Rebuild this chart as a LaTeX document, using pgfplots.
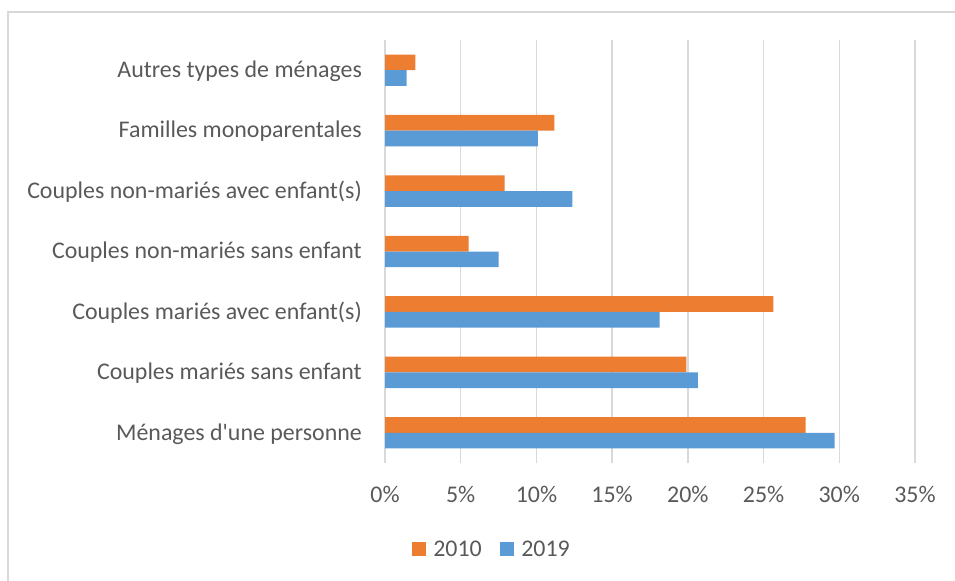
\documentclass[border=0pt]{standalone}
\usepackage{pgfplots}
\pgfplotsset{compat=1.18}
\usepackage{fontspec}
\setmainfont{Carlito}[Ligatures=TeXOff]
\definecolor{c2010}{HTML}{ED7D31}
\definecolor{c2019}{HTML}{5B9BD5}
\definecolor{gridc}{HTML}{D9D9D9}
\definecolor{txt}{HTML}{595959}
\begin{document}
\begin{tikzpicture}
\useasboundingbox (0,0) rectangle (955bp,581bp);
\draw[gridc, line width=1.3bp] (8bp,0) -- (8bp,569bp) -- (955bp,569bp);
\begin{axis}[
  at={(385bp,118bp)}, anchor=south west,
  scale only axis, width=530bp, height=423bp,
  xmin=0, xmax=35, ymin=-0.5, ymax=6.5,
  xbar,
  bar width=15.7bp,
  xtick={0,5,10,15,20,25,30,35},
  xticklabels={0\%,5\%,10\%,15\%,20\%,25\%,30\%,35\%},
  ytick={0,1,2,3,4,5,6},
  yticklabels={Ménages d'une personne,Couples mariés sans enfant,Couples mariés avec enfant(s),Couples non-mariés sans enfant,Couples non-mariés avec enfant(s),Familles monoparentales,Autres types de ménages},
  major tick length=0pt,
  axis line style={draw=none},
  xmajorgrids, grid style={gridc, line width=1.3bp},
  tick label style={text=txt, font=\fontsize{24}{28}\selectfont},
  yticklabel style={anchor=base east, inner sep=0pt, xshift=-23bp, yshift=-7.3bp},
  xticklabel style={anchor=base, inner sep=0pt, yshift=-39.7bp},
  legend image code/.code={\fill[#1] (0bp,-7bp) rectangle (14bp,7bp); \path (19bp,0bp);},
  legend columns=2,
  legend style={at={(0.202,-0.2033)}, anchor=center, draw=none, fill=none,
    text=txt, font=\fontsize{24}{28}\selectfont,
    /tikz/every even column/.append style={column sep=16.5bp}},
]
\addplot[fill=c2010, draw=none, bar shift=7.85bp] coordinates {(27.77,0) (19.9,1) (25.64,2) (5.53,3) (7.9,4) (11.18,5) (2.0,6)};
\addlegendentry{2010}
\addplot[fill=c2019, draw=none, bar shift=-7.85bp] coordinates {(29.7,0) (20.66,1) (18.14,2) (7.5,3) (12.37,4) (10.09,5) (1.43,6)};
\addlegendentry{2019}
\end{axis}
\end{tikzpicture}
\end{document}
